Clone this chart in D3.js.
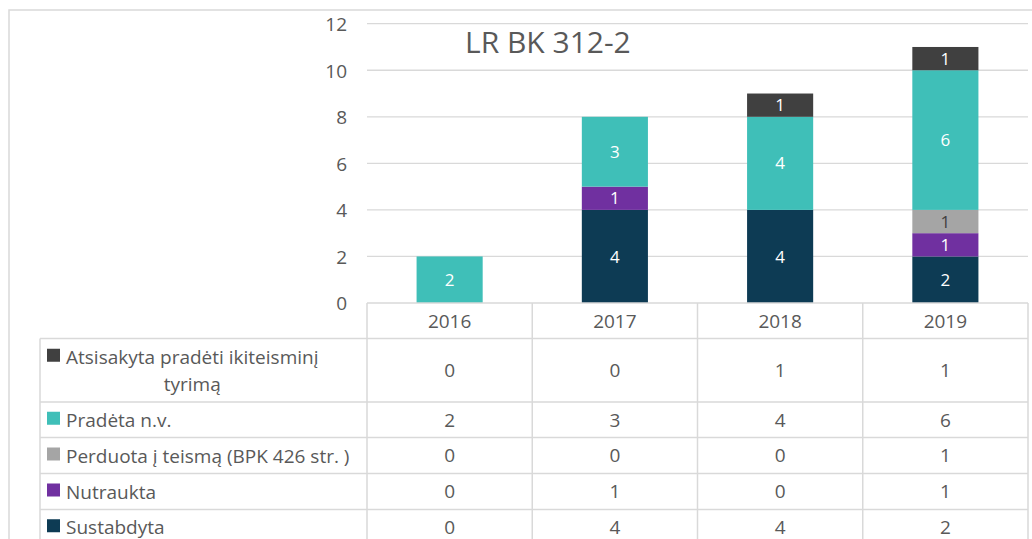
<!DOCTYPE html>
<html>
<head>
<meta charset="utf-8">
<script src="https://cdn.jsdelivr.net/npm/d3@7"></script>
<style>
  html, body { margin: 0; padding: 0; background: #fff; }
  svg { display: block; }
  text { font-family: "Open Sans", "Noto Sans", sans-serif; fill: #595959; }
</style>
</head>
<body>
<svg id="chart" width="1032" height="539"></svg>
<script>
// ---- data ----
const years = ["2016", "2017", "2018", "2019"];
const seriesNames = [
  "Sustabdyta",
  "Nutraukta",
  "Perduota į teismą (BPK 426 str. )",
  "Pradėta n.v.",
  "Atsisakyta pradėti ikiteisminį tyrimą"
];
const sustabdyta = [0, 4, 4, 2];
const nutraukta  = [0, 1, 0, 1];
const perduota   = [0, 0, 0, 1];
const pradeta    = [2, 3, 4, 6];
const atsisakyta = [0, 0, 1, 1];
const yTicks = [0, 2, 4, 6, 8, 10, 12];
const title = "LR BK 312-2";

const seriesValues = [sustabdyta, nutraukta, perduota, pradeta, atsisakyta];
const colors = ["#0d3b54", "#7030a0", "#a5a5a5", "#3fbfb8", "#404040"];
const labelColors = ["#ffffff", "#ffffff", "#404040", "#ffffff", "#ffffff"];

const svg = d3.select("#chart");
const grid = "#d9d9d9";

// chart area border
svg.append("rect").attr("x", 9).attr("y", 10).attr("width", 1040).attr("height", 560)
  .attr("fill", "none").attr("stroke", grid).attr("stroke-width", 1.5);

// scales
const x = d3.scaleBand().domain(years).range([367, 1028]).paddingInner(0.6).paddingOuter(0.3);
const y = d3.scaleLinear().domain([0, 12]).range([303, 23.7]);

// gridlines
svg.append("g").selectAll("line").data(yTicks.filter(t => t > 0)).join("line")
  .attr("x1", 367).attr("x2", 1028)
  .attr("y1", d => y(d)).attr("y2", d => y(d))
  .attr("stroke", grid).attr("stroke-width", 1.3);

// y axis labels
const yAxis = d3.axisLeft(y).tickValues(yTicks).tickSize(0).tickPadding(0);
const yg = svg.append("g").attr("transform", "translate(347,0)").call(yAxis);
yg.select(".domain").remove();
yg.selectAll("text").attr("font-size", 19).attr("fill", "#595959")
  .attr("font-family", "'Open Sans', sans-serif").attr("dy", "0.36em");

// title
svg.append("text").attr("x", 465).attr("y", 53).attr("font-size", 30).text(title);

// stacked bars
const table = years.map((yr, i) => {
  const o = { year: yr };
  seriesValues.forEach((s, k) => o["s" + k] = s[i]);
  return o;
});
const keys = seriesValues.map((s, k) => "s" + k);
const stacked = d3.stack().keys(keys)(table);

const layers = svg.append("g").selectAll("g").data(stacked).join("g")
  .attr("fill", (d, k) => colors[k]);
layers.selectAll("rect").data(d => d).join("rect")
  .attr("x", d => x(d.data.year))
  .attr("width", x.bandwidth())
  .attr("y", d => y(d[1]))
  .attr("height", d => y(d[0]) - y(d[1]));

// data labels
stacked.forEach((layer, k) => {
  svg.append("g").selectAll("text").data(layer.filter(d => d[1] - d[0] > 0)).join("text")
    .attr("x", d => x(d.data.year) + x.bandwidth() / 2)
    .attr("y", d => (y(d[0]) + y(d[1])) / 2)
    .attr("dy", "0.36em")
    .attr("text-anchor", "middle")
    .attr("font-size", 17)
    .style("fill", labelColors[k])
    .text(d => d[1] - d[0]);
});

// ---- data table ----
const rowBounds = [303, 338.5, 402, 437.5, 473.5, 509.5, 545];
const tableLeft = 40;
const step = x.step();
const colEdges = years.map((yr, i) => 367 + i * step).concat([367 + years.length * step]);

const tg = svg.append("g").attr("stroke", grid).attr("stroke-width", 1.5);
// x axis / top line of table
tg.append("line").attr("x1", 367).attr("x2", 1028).attr("y1", 303).attr("y2", 303);
rowBounds.slice(1, -1).forEach(b => {
  tg.append("line").attr("x1", tableLeft).attr("x2", 1028).attr("y1", b).attr("y2", b);
});
tg.append("line").attr("x1", tableLeft).attr("x2", tableLeft).attr("y1", rowBounds[1]).attr("y2", 545);
colEdges.forEach(cx => {
  tg.append("line").attr("x1", cx).attr("x2", cx).attr("y1", 303).attr("y2", 545);
});

// header years
svg.append("g").selectAll("text").data(years).join("text")
  .attr("x", d => x(d) + x.bandwidth() / 2)
  .attr("y", (rowBounds[0] + rowBounds[1]) / 2).attr("dy", "0.36em")
  .attr("text-anchor", "middle").attr("font-size", 19)
  .text(d => d);

// rows: top to bottom is reverse of stack order
const rowOrder = seriesValues.map((s, k) => k).reverse();
rowOrder.forEach((k, r) => {
  const top = rowBounds[r + 1], bot = rowBounds[r + 2];
  const cy = (top + bot) / 2;
  const values = seriesValues[k];
  svg.append("g").selectAll("text").data(values).join("text")
    .attr("x", (d, i) => x(years[i]) + x.bandwidth() / 2)
    .attr("y", cy).attr("dy", "0.36em")
    .attr("text-anchor", "middle").attr("font-size", 19)
    .text(d => d);

  const name = seriesNames[k];
  let lines = [name];
  if (name.length > 34) {
    const cut = name.lastIndexOf(" ");
    lines = [name.slice(0, cut), name.slice(cut + 1)];
  }
  const lh = 27;
  const firstBase = cy + 7 - (lines.length - 1) * lh / 2;
  svg.append("rect").attr("x", 47).attr("y", firstBase - 15).attr("width", 13).attr("height", 13)
    .attr("fill", colors[k]);
  const t1 = svg.append("text").attr("x", 66).attr("y", firstBase).attr("font-size", 19).text(lines[0]);
  if (lines.length > 1) {
    const w = t1.node().getComputedTextLength();
    svg.append("text").attr("x", 66 + w / 2).attr("y", firstBase + lh)
      .attr("text-anchor", "middle").attr("font-size", 19).text(lines[1]);
  }
});
</script>
</body>
</html>
